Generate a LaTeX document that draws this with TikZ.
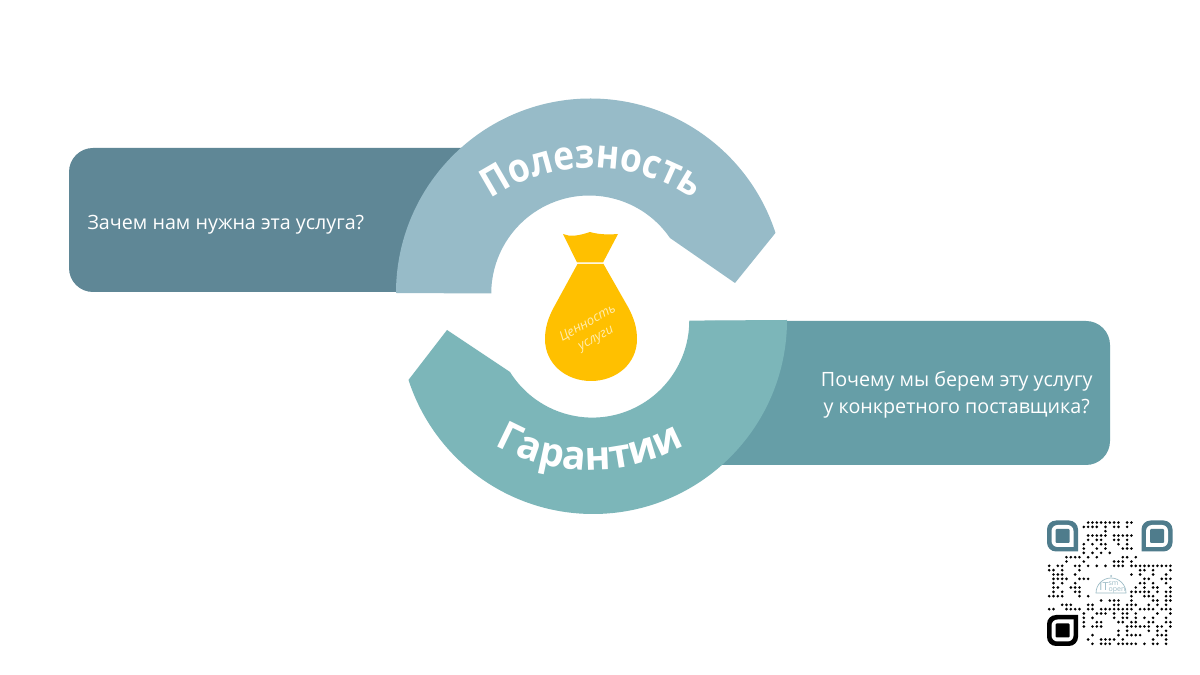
\documentclass[tikz,border=0pt]{standalone}
\usepackage{fontspec}
\setmainfont{Open Sans}
\newfontfamily\poleznfont{Open Sans}[FakeStretch=0.88]
\newfontfamily\garantfont{Open Sans}[FakeStretch=0.98]
\usetikzlibrary{decorations.text}
\definecolor{boxone}{HTML}{5F8796}
\definecolor{boxtwo}{HTML}{669EA7}
\definecolor{arcone}{HTML}{97BBC8}
\definecolor{arctwo}{HTML}{7CB6B9}
\definecolor{bagcol}{HTML}{FFC000}
\definecolor{bagink}{HTML}{FFEDB0}
\definecolor{qrcol}{HTML}{4F7C8C}
\definecolor{logocol}{HTML}{9DBCC6}
\tikzset{
  question/.style = {text=white, font=\fontsize{19.7}{27}\selectfont, align=center},
  bagtext/.style = {text=bagink, font=\itshape\fontsize{13}{17}\selectfont, align=center, rotate=29},
  arctitle/.style 2 args = {decorate, decoration={text along path, text align=center, text={|#1\bfseries\fontsize{40}{40}\selectfont\color{white}|#2}}},
  qrdot/.style = {fill=black},
  logotext/.style = {text=logocol, font=\fontsize{7}{6}\selectfont, inner sep=0pt, align=left},
}
\begin{document}
\begin{tikzpicture}[x=1pt,y=1pt]
\useasboundingbox (0,0) rectangle (1200,675);
\fill[white] (0,0) rectangle (1200,675);

% boxes behind the arcs
\fill[boxone] (470,383) [rounded corners=24pt] -- (69,383) -- (69,527) [sharp corners] -- (470,527) -- cycle;
\fill[boxtwo] (715,354) [rounded corners=24pt] -- (1110,354) -- (1110,210) [sharp corners] -- (715,210) -- cycle;

% arcs
\fill[arcone] (396,382) arc[start angle=180, end angle=18, radius=194.5] -- (735,392) -- (670,437)
  arc[start angle=34.5, end angle=180, radius=98] -- cycle;
\fill[arctwo] (787,355) arc[start angle=0, end angle=-162, radius=194] -- (447,345) -- (510,303)
  arc[start angle=212, end angle=360, radius=97] -- cycle;

% curved titles
\path[arctitle={\poleznfont}{Полезность}] (592,327) ++(146:180) arc[start angle=146, end angle=34, radius=180];
\path[arctitle={\garantfont}{Гарантии}] (590,400) ++(208:195) arc[start angle=208, end angle=332, radius=195];

% bag
\fill[bagcol] (563,441) .. controls (570,438) and (578,439) .. (590,443) .. controls (597,441) and (605,440) .. (618,441)
  -- (603,412.5) -- (577,412.5) -- cycle;
\fill[bagcol] (577.5,411) -- (603.5,411) -- (628,368) .. controls (634,357) and (637,347) .. (637,336)
  .. controls (637,311) and (616,294) .. (591,294) .. controls (566,294) and (545,311) .. (545,336)
  .. controls (545,347) and (548,357) .. (554,368) -- cycle;
\node[bagtext] (bagtext) at (592,344) {Ценность\\услуги};

% questions
\node[question, anchor=west] (whytext) at (84,450) {Зачем нам нужна эта услуга?};
\node[question, anchor=east] (whichtext) at (1096,280) {Почему мы берем эту услугу\\у конкретного поставщика?};

% qr code
\begin{scope}[xshift=1047pt, yshift=29pt]
\foreach \col/\rowlist in {
  0/{9,10,11,12,13,14,15,16,18,19},
  1/{8,9,10,11,13,15,16,18},
  2/{13},
  3/{9,10,11,12,13,15,16,17,18,19},
  4/{9,11,12,15,16,18},
  5/{8,10,12,13,16,18},
  6/{8,11,13,17,18,19},
  7/{8,10,12,14},
  8/{4,5,6,7,9,11,17,18,20},
  9/{4,8,15,16,17,19},
  10/{0,2,3,6,7,9,11,13,15,16,17,19,20,21,22,23,24,25,26,27,28},
  11/{0,1,3,7,21,22,24,28},
  12/{1,2,3,6,19,21,24,27},
  13/{1,2,3,4,7,8,9,22,23,26,27,28},
  14/{1,3,6,21,22,24,27},
  15/{1,2,5,6,7,20,22,24,25,28},
  16/{1,3,6,7,19,20,21,22,23,25,27,28},
  17/{0,1,2,3,7,9,19,22,23,24,27,28},
  18/{12,14,15,16,19,24,25,27,28},
  19/{3,4,5,9,10,15,16,18,19,20,23,25,27},
  20/{0,1,4,5,6,7,9,10,12,13,14,15,16,17,18,19,21,22,23,24,26,27,28},
  21/{8,11,12,13,15,17,18,20,25,28},
  22/{8,10,15,17,18,20,22,24,27},
  23/{8,11,12,16,17,19,20,23,24,27,28},
  24/{8,10,11,12,18,19,20,21,22,23,25,26,28},
  25/{16,18,23,25,27},
  26/{10,16,18,19,20,21,25,26,27},
  27/{9,12,13,14,15,17,24,27},
  28/{10,12,13,14,16,17,18,19,20,22,24,25,27}} {
  \foreach \row in \rowlist
    \fill[qrdot] ({(\row+0.5)*4.33},{125.6-(\col+0.5)*4.33}) circle (1.45);
}
% finder marks
\foreach \fx/\fy/\frot/\fcol in {15.5/110/0/qrcol, 110/110/-90/qrcol, 15.5/15.5/90/black} {
  \begin{scope}[shift={(\fx,\fy)}, rotate=\frot]
    \fill[\fcol] (15.5,-15.5) [rounded corners=9pt] -- (-15.5,-15.5) -- (-15.5,15.5) -- (15.5,15.5) [sharp corners] -- cycle;
    \fill[white] (11,-11) [rounded corners=6pt] -- (-11,-11) -- (-11,11) -- (11,11) [sharp corners] -- cycle;
    \fill[\fcol, rounded corners=1pt] (-7,-7) rectangle (7,7);
  \end{scope}
}
% logo in the middle
\draw[logocol, line width=0.7pt] (49,53) arc[start angle=180, end angle=0, x radius=15, y radius=15] -- cycle;
\fill[logocol] (64,70) circle (1);
\node[logotext] (logoit) at (57,59) {\fontsize{11}{11}\selectfont IT};
\node[logotext] (logosm) at (70,59) {sm\\open};
\end{scope}
\end{tikzpicture}
\end{document}
